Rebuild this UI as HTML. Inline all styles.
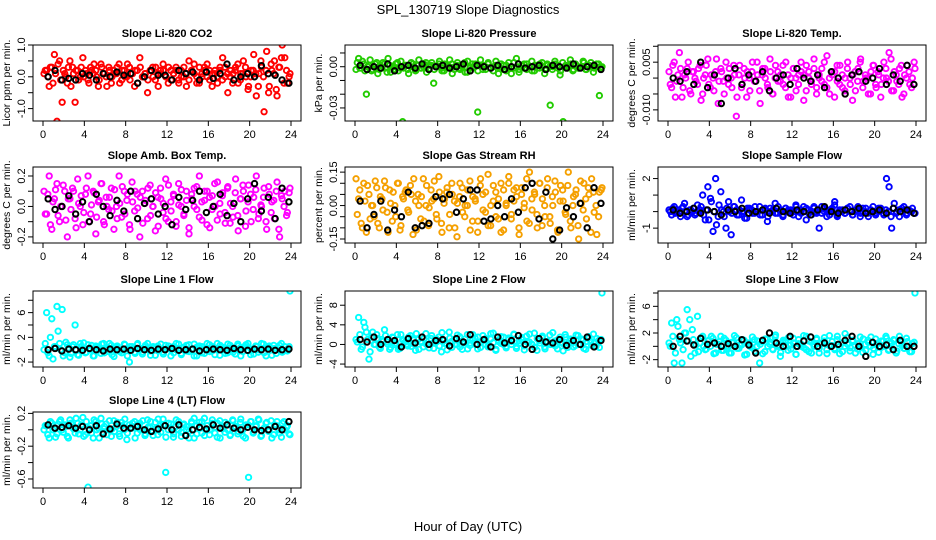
<!DOCTYPE html>
<html><head><meta charset="utf-8">
<style>
html,body{margin:0;padding:0;background:#fff;}
svg{display:block;font-family:"Liberation Sans",sans-serif;}
</style></head>
<body>
<svg id="chart" width="936" height="540" viewBox="0 0 936 540" xmlns="http://www.w3.org/2000/svg">
<text x="468" y="14" text-anchor="middle" font-size="13">SPL_130719  Slope Diagnostics</text>
<text x="468" y="531" text-anchor="middle" font-size="13">Hour of Day (UTC)</text>
</svg>
<script>
const xTicks=[0,4,8,12,16,20,24];
const xTickLabels=["0","4","8","12","16","20","24"];

const co2Values=[0.1,0.2,-0.3,0.3,0.7,-1.4,0.5,-0.8,0.1,-0.2,0.5,0.3,-0.8,0.2,0.0,0.6,0.2,-0.1,0.3,0.1,0.2,-0.3,0.4,0.1,0.0,0.3,-0.2,0.2,0.1,0.4,-0.1,0.2,0.0,0.3,0.1,-0.3,0.2,0.6,0.0,0.1,-0.5,0.2,0.3,-0.1,0.1,0.2,0.4,0.0,-0.2,0.2,0.1,0.3,-0.1,0.2,0.0,-0.3,0.5,0.2,0.1,-0.2,0.3,0.0,0.2,0.4,-0.1,0.1,0.2,-0.2,0.3,0.6,0.0,-0.5,0.2,0.1,0.3,-0.2,0.1,0.5,0.0,-0.3,0.2,0.7,-0.6,0.1,0.3,-1.1,0.8,-0.3,0.2,0.5,-0.6,0.3,1.0,0.6,-0.2,0.1];
const co2Values2=[0.2,0.0,0.3,-0.2,0.1,0.4,-0.1,0.2,0.0,0.3,-0.3,0.1,0.2,-0.1,0.3,0.0,0.1,-0.2,0.2,0.4,0.0,-0.1,0.3,0.1,-0.3,0.2,0.0,0.1,0.3,-0.2,0.2,0.0,0.4,-0.1,0.1,0.2,-0.2,0.3,0.0,0.1,-0.1,0.2,0.0,0.3,-0.3,0.1,0.2,0.0,0.3,-0.1,0.1,0.2,-0.2,0.0,0.3,0.1,-0.1,0.2,0.4,0.0,-0.2,0.1,0.3,0.0,0.2,-0.3,0.1,0.0,0.2,-0.1,0.3,0.1,0.0,-0.2,0.2,0.4,-0.1,0.1,0.3,-0.4,0.0,0.2,0.1,-0.3,0.5,0.0,0.2,-0.5,0.4,0.1,-0.4,0.3,0.6,-0.2,0.2,0.0];
const co2Black=[0.0,0.2,-0.1,-0.05,-0.1,0.1,0.05,-0.1,0.1,0.0,0.15,0.05,0.1,-0.2,0.0,0.2,0.05,0.05,-0.1,0.2,0.1,0.15,-0.1,0.15,-0.05,0.1,0.4,-0.1,0.0,0.1,0.0,0.35,0.1,0.05,-0.1,-0.2];
const co2Ticks=[-1,-0.5,0,0.5,1];
const co2TickLabels=["-1.0","","0.0","","1.0"];

// milli-kPa per min
const pressValues=[-2,6,-1,2,-20,1,-3,0,3,-2,-1,2,-4,1,0,-2,3,-1,-40,1,-2,0,2,-3,1,-1,0,3,-2,1,-12,0,2,-1,-3,1,0,2,-2,1,-1,0,3,-4,-1,2,0,-33,1,-2,0,2,-1,-3,1,0,2,-2,1,-1,-5,3,0,-2,1,-1,2,0,-3,1,-1,2,0,-2,1,-28,0,2,-1,-3,-40,1,0,2,-2,1,-1,0,3,-2,1,0,-1,2,-21,0];
const pressValues2=[3,-1,4,-3,0,5,-2,2,-5,1,3,-1,6,-4,0,2,-3,4,-1,1,-5,3,0,-2,5,-1,2,-4,1,3,-2,0,4,-3,2,-1,5,-5,0,3,-2,1,-4,4,0,-1,2,-3,5,1,-2,3,-1,0,4,-5,2,1,-3,3,0,-1,6,-4,1,2,-2,0,4,-3,1,-1,3,-5,2,0,-2,4,1,-6,3,0,-1,5,-3,2,-1,0,4,-2,1,3,-4,0,2,-1];
const pressBlack=[1,-2,0,-1,2,-3,0,1,-1,2,-2,0,1,-1,0,2,-3,1,0,-1,1,-2,0,2,-1,0,1,-2,1,0,-1,2,-1,0,1,-2];
const pressTicks=[-30,-20,-10,0,10];
const pressTickLabels=["-0.03","","","0.00",""];

// milli-degC per min
const tempValues=[2,-3,5,-1,8,-6,1,3,-4,2,0,-2,4,-5,1,6,-3,0,2,-8,3,-1,5,-2,0,4,-12,1,-3,3,-6,0,2,-1,5,-4,1,3,-2,6,-5,0,2,-1,4,-3,1,-6,3,0,-2,5,1,-4,2,-1,6,-3,0,3,-2,7,-5,1,2,-1,4,-3,0,5,-2,1,-4,3,6,-1,0,-5,2,4,-3,1,-2,5,0,8,-4,2,-1,3,-6,1,4,-2,0,3];
const tempValues2=[-2,4,-6,1,3,-3,0,5,-5,2,-1,3,-7,0,4,-2,1,-4,6,-1,2,-5,0,3,-3,1,-6,4,-2,0,2,-4,5,-1,1,-8,3,0,-3,2,-5,4,-1,1,-2,5,-6,0,3,-4,1,2,-7,4,0,-2,3,-5,1,-1,5,-3,0,2,-6,4,-2,1,-4,3,0,-7,2,-1,5,-3,1,0,-5,4,-2,2,-6,0,3,-1,6,-4,1,-2,4,-5,0,2,-3,5];
const tempBlack=[0,-1,2,-2,5,-3,1,-8,0,3,-2,1,-1,2,-4,0,1,-2,3,0,-1,1,-3,2,0,-5,1,2,-1,0,3,-2,1,-1,4,-2];
const tempTicks=[-10,-5,0,5,10];
const tempTickLabels=["-0.010","","","0.005",""];

const ambValues=[0.1,-0.05,0.2,-0.15,0.05,0.15,-0.1,0.0,0.1,-0.2,0.05,0.12,-0.08,0.18,0.0,-0.12,0.08,0.2,-0.05,0.1,-0.18,0.03,0.15,-0.1,0.06,-0.02,0.12,-0.15,0.0,0.2,-0.07,0.1,0.04,-0.12,0.16,-0.03,0.08,-0.2,0.1,0.02,-0.08,0.14,0.0,-0.16,0.06,0.12,-0.04,0.18,-0.1,0.03,0.08,-0.13,0.15,0.0,-0.06,0.1,-0.18,0.05,0.12,-0.02,0.2,-0.09,0.04,0.1,-0.14,0.07,0.0,0.16,-0.05,0.09,-0.11,0.13,0.02,-0.07,0.18,-0.16,0.05,0.1,-0.03,0.14,-0.1,0.06,0.2,-0.05,0.0,0.12,-0.15,0.08,0.03,-0.08,0.16,-0.2,0.05,0.1,-0.04,0.12];
const ambValues2=[-0.05,0.08,-0.12,0.03,0.11,-0.06,0.0,0.14,-0.09,0.05,-0.02,0.1,-0.14,0.02,0.07,-0.04,0.12,-0.1,0.01,0.09,-0.07,0.04,0.15,-0.12,0.0,0.06,-0.03,0.11,-0.08,0.02,0.13,-0.05,0.08,-0.15,0.03,0.1,-0.01,0.06,-0.11,0.04,0.12,-0.06,0.0,0.09,-0.13,0.05,0.02,-0.08,0.14,-0.03,0.07,-0.1,0.01,0.11,-0.05,0.04,-0.14,0.08,0.0,0.13,-0.07,0.03,0.1,-0.12,0.06,-0.02,0.15,-0.09,0.02,0.07,-0.04,0.12,-0.11,0.0,0.09,-0.06,0.05,0.14,-0.13,0.03,0.08,-0.02,0.11,-0.08,0.01,0.06,-0.1,0.13,-0.04,0.04,0.1,-0.15,0.07,0.0,-0.06,0.09];
const ambBlack=[0.05,-0.02,0.0,0.07,-0.05,0.03,-0.1,0.08,0.0,-0.06,0.04,-0.03,0.1,-0.08,0.02,0.05,-0.05,0.0,-0.12,0.06,-0.02,0.04,0.1,-0.04,0.0,0.08,-0.06,0.02,-0.1,0.05,0.15,-0.03,0.06,-0.08,0.12,0.03];
const ambTicks=[-0.2,-0.1,0,0.1,0.2];
const ambTickLabels=["-0.2","","0.0","","0.2"];

const rhValues=[0.12,0.03,-0.08,0.1,-0.12,0.05,0.0,-0.05,0.08,-0.1,0.03,0.11,-0.03,0.07,-0.07,0.0,0.1,-0.11,0.04,0.06,-0.02,0.09,-0.13,0.02,0.05,-0.06,0.12,0.0,-0.09,0.07,0.03,-0.04,0.13,-0.08,0.01,0.06,-0.1,0.1,0.02,-0.14,0.04,0.08,-0.05,0.0,0.11,-0.07,0.03,-0.12,0.09,0.05,-0.03,0.14,-0.09,0.02,0.06,-0.06,0.1,-0.11,0.0,0.13,-0.04,0.07,0.04,-0.13,0.08,0.01,-0.07,0.15,-0.02,0.05,-0.1,0.1,0.03,-0.05,0.12,-0.08,0.0,0.06,-0.12,0.09,0.02,-0.04,0.15,-0.1,0.04,0.07,-0.15,0.01,0.1,-0.06,0.05,0.12,-0.03,-0.13,0.06,0.08];
const rhValues2=[-0.04,0.07,-0.1,0.02,0.09,-0.06,0.0,0.11,-0.08,0.04,-0.02,0.08,-0.12,0.01,0.06,-0.05,0.1,-0.09,0.03,0.07,-0.03,0.05,0.12,-0.11,0.0,0.04,-0.07,0.09,-0.01,0.02,0.11,-0.06,0.06,-0.12,0.03,0.08,-0.04,0.05,-0.1,0.01,0.1,-0.03,0.0,0.07,-0.11,0.04,0.02,-0.07,0.12,-0.02,0.06,-0.09,0.0,0.09,-0.05,0.03,-0.12,0.07,0.01,0.1,-0.06,0.02,0.08,-0.1,0.05,-0.01,0.12,-0.08,0.03,0.06,-0.04,0.1,-0.09,0.0,0.08,-0.05,0.04,0.11,-0.11,0.02,0.07,-0.03,0.09,-0.07,0.0,0.05,-0.09,0.11,-0.02,0.03,0.08,-0.12,0.06,0.0,-0.05,0.07];
const rhBlack=[0.02,-0.1,-0.04,0.02,-0.11,-0.02,-0.05,0.06,-0.1,-0.09,-0.08,0.04,0.03,0.05,-0.03,0.03,0.07,0.07,-0.07,-0.06,0.0,-0.05,0.03,-0.03,0.08,0.1,-0.06,0.06,-0.15,-0.11,-0.01,-0.05,0.01,-0.1,0.08,0.01];
const rhTicks=[-0.15,-0.1,-0.05,0,0.05,0.1,0.15];
const rhTickLabels=["-0.15","","","0.00","","","0.15"];

const sampleValues=[0.1,-0.2,0.3,0.0,-0.1,0.2,0.5,-0.3,0.1,0.0,-0.2,0.4,0.1,1.0,-0.5,1.5,0.8,-1.2,2.0,-0.3,1.2,0.0,-1.0,0.6,-1.4,0.3,0.1,-0.2,0.7,0.0,-0.4,0.2,0.1,-0.1,0.0,0.3,-0.2,0.1,-0.6,0.2,0.0,0.5,-0.1,0.1,-0.3,0.2,0.0,0.1,-0.2,0.4,0.0,-0.1,0.3,-0.5,0.1,0.0,0.2,-0.1,-1.0,0.3,0.0,0.1,-0.2,0.2,0.6,-0.3,0.0,0.1,-0.1,0.2,0.0,-0.2,0.1,0.3,-0.1,0.0,0.2,-0.3,0.1,0.0,-0.1,0.2,0.1,-0.2,2.0,1.5,-1.0,0.5,0.0,-0.3,0.2,0.1,-0.1,0.0,0.2,-0.1];
const sampleValues2=[0.0,0.2,-0.1,0.1,-0.3,0.3,0.0,-0.2,0.1,0.2,-0.1,0.0,0.3,-0.2,0.1,-0.5,0.6,0.0,-0.8,0.4,0.1,-0.3,0.2,0.0,-0.1,0.3,-0.2,0.1,0.0,-0.4,0.2,0.1,-0.1,0.3,0.0,-0.2,0.1,0.2,-0.3,0.0,0.1,-0.1,0.3,0.0,-0.2,0.2,0.1,-0.1,0.0,0.3,-0.3,0.1,0.0,0.2,-0.1,-0.2,0.3,0.0,0.1,-0.1,0.2,-0.3,0.0,0.1,0.4,-0.2,0.1,0.0,-0.1,0.2,0.3,-0.2,0.0,0.1,-0.3,0.2,0.0,-0.1,0.1,0.3,-0.2,0.0,0.2,-0.1,0.1,0.0,-0.3,0.2,-0.1,0.1,0.0,0.3,-0.2,0.1,0.0,-0.1];
const sampleBlack=[0.1,-0.1,0.0,0.2,-0.1,0.1,0.0,-0.2,0.1,0.0,0.2,-0.1,0.0,0.1,-0.1,0.2,0.0,-0.1,0.1,0.0,-0.2,0.1,0.3,0.0,-0.1,0.1,0.0,0.2,-0.1,0.0,0.1,-0.1,0.2,0.0,0.1,-0.1];
const sampleTicks=[-1,0,1,2];
const sampleTickLabels=["-1","","","2"];

const line1Values=[0.0,6.0,-1.0,5.0,0.5,7.0,1.0,6.5,-0.5,0.8,-1.2,0.5,4.0,-0.8,1.0,0.2,-0.5,0.8,0.0,-1.0,0.6,0.3,-0.6,1.0,0.0,-0.3,0.7,-1.1,0.4,0.0,-0.5,0.9,0.2,-2.0,0.5,-0.4,0.8,0.0,-0.7,0.4,1.0,-0.2,0.3,-0.9,0.6,0.0,-0.4,0.7,0.2,-1.0,0.5,0.0,0.9,-0.6,0.3,-0.2,0.8,0.0,-1.0,0.4,0.6,-0.5,0.1,1.0,-0.3,0.5,-0.8,0.2,0.7,0.0,-0.6,0.9,0.3,-0.4,0.0,0.6,-1.0,0.4,0.8,-0.2,0.1,-0.7,0.5,0.0,1.0,-0.5,0.3,0.6,-0.9,0.2,0.0,0.7,-0.4,0.5,-0.2,9.5];
const line1Values2=[1.0,-0.5,2.0,-1.5,0.5,3.0,0.0,-1.0,1.2,0.3,-0.6,0.8,0.0,-0.9,0.5,1.1,-0.4,0.2,0.7,-1.0,0.4,0.0,0.9,-0.5,0.2,1.0,-0.8,0.3,0.6,-0.3,0.0,0.8,-1.0,0.5,0.1,-0.6,1.0,0.2,-0.4,0.7,0.0,-0.9,0.5,0.3,-0.2,0.9,-0.7,0.1,0.6,0.0,-0.5,1.0,0.2,-0.8,0.4,0.7,-0.3,0.0,0.9,-1.0,0.3,0.5,-0.6,0.1,0.8,-0.2,0.0,1.0,-0.9,0.4,0.2,-0.5,0.7,0.0,-0.7,0.9,0.3,-0.3,0.5,1.0,-0.8,0.0,0.6,-0.4,0.2,0.9,-1.0,0.4,0.0,0.7,-0.6,0.3,1.0,-0.2,0.0,0.5];
const line1Black=[0.0,0.2,-0.2,0.1,0.0,-0.1,0.2,0.0,-0.2,0.1,0.0,0.1,-0.1,0.2,0.0,-0.1,0.1,0.0,0.2,-0.1,0.0,0.1,-0.2,0.0,0.1,0.0,-0.1,0.2,0.0,-0.1,0.1,0.0,0.1,-0.1,0.0,0.1];
const line1Ticks=[-2,0,2,4,6,8];
const line1TickLabels=["-2","","2","","6",""];

const line2Values=[1.0,5.5,-1.0,4.5,2.5,-3.0,1.5,0.0,2.0,-0.5,1.0,3.0,0.5,-1.0,1.5,0.0,2.0,-0.8,1.0,0.5,-0.3,1.8,0.2,-1.2,1.0,0.6,-0.5,2.2,0.0,1.2,-0.8,0.5,1.5,-1.5,0.8,0.2,2.5,-0.6,1.0,0.0,1.6,-1.0,0.4,2.0,-0.2,0.9,1.3,-0.9,0.3,1.8,0.0,-0.5,1.1,2.3,-1.2,0.6,0.2,1.5,-0.7,1.0,0.0,2.0,-0.4,0.8,1.4,-1.1,0.5,2.1,0.0,-0.6,1.2,0.3,1.7,-0.9,0.6,0.0,2.4,-0.3,1.0,0.4,-1.3,1.5,0.2,0.8,-0.5,1.9,0.0,1.1,-0.8,0.6,1.6,-0.2,0.4,1.2,-0.6,10.5];
const line2Values2=[0.5,2.0,-0.5,3.5,1.0,-1.5,2.5,0.0,1.2,-0.8,0.6,1.8,0.0,-0.6,1.4,0.3,-1.0,2.0,0.8,0.0,1.5,-0.4,0.9,2.2,-1.0,0.4,1.2,0.0,-0.7,1.8,0.5,1.0,-0.3,2.4,0.2,-1.1,1.3,0.7,0.0,1.9,-0.5,0.6,1.1,-0.9,0.3,2.0,0.0,1.5,-0.6,0.8,1.2,-0.2,2.2,0.4,-1.0,0.9,1.6,0.0,-0.4,1.3,0.6,2.1,-0.8,0.2,1.0,-0.3,1.7,0.5,0.0,2.3,-1.2,0.8,1.4,-0.5,0.3,1.9,0.0,0.7,-0.9,1.5,0.2,2.0,-0.6,1.1,0.4,-0.2,1.8,0.0,0.9,-1.0,1.3,0.6,2.1,-0.4,0.8,1.0];
const line2Black=[1.0,0.5,1.5,0.0,1.0,0.8,-0.5,1.2,0.3,1.5,0.0,0.8,1.0,-0.3,1.2,0.5,2.0,0.0,1.0,-0.5,1.5,0.3,0.8,1.8,0.0,-1.0,1.2,0.5,0.3,1.0,-0.2,0.8,0.0,1.5,-0.5,0.8];
const line2Ticks=[-4,0,4,8];
const line2TickLabels=["-4","0","4","8"];

const line3Values=[0.5,3.5,-2.5,4.0,1.0,-2.5,2.0,5.5,4.0,2.5,-1.0,4.5,0.5,1.5,-0.5,0.8,0.0,1.2,-1.0,0.3,1.5,-0.6,0.9,0.0,-1.0,0.6,1.3,-0.3,0.2,0.9,-1.2,0.5,-0.2,1.0,0.0,-2.5,0.7,-0.8,1.1,0.3,-0.4,1.4,0.0,-1.5,0.6,0.9,-0.6,0.2,1.2,-1.2,0.4,0.0,1.6,-0.5,0.8,-1.0,0.3,1.0,-0.3,0.5,1.3,-1.1,0.1,0.7,-0.5,1.5,0.0,-0.8,1.9,0.3,-0.2,0.9,-1.0,0.4,0.0,1.1,-0.6,0.6,1.4,-0.3,0.2,-0.9,0.8,0.0,1.2,-0.5,0.5,0.9,-0.7,1.5,0.1,-0.3,0.7,-0.8,0.4,8.0];
const line3Values2=[0.0,1.5,-1.0,3.0,0.5,-0.5,2.0,0.8,-1.5,1.0,0.2,-0.8,1.3,0.0,-0.4,0.9,1.5,-1.1,0.3,0.7,-0.6,1.2,0.0,-1.0,0.6,1.6,-0.3,0.2,1.0,-1.3,0.5,0.0,1.4,-0.7,0.8,0.3,-1.1,1.1,0.0,0.6,-0.5,1.7,0.2,-0.9,0.9,0.0,1.3,-0.4,0.5,-1.2,1.0,0.3,-0.2,1.5,-0.8,0.6,0.0,1.2,-1.0,0.4,0.8,-0.5,1.6,0.1,-0.3,1.0,-1.1,0.5,0.0,1.3,-0.7,0.7,0.2,-0.4,1.4,-0.9,0.3,0.9,0.0,-1.2,1.1,0.5,-0.2,0.8,1.5,-0.6,0.0,1.0,-1.0,0.4,0.7,-0.3,1.2,0.0,-0.8,0.6];
const line3Black=[0.0,1.5,0.8,0.2,1.2,0.3,0.5,0.0,0.4,0.0,1.0,0.2,-1.0,0.9,2.0,0.5,0.0,1.5,0.0,0.8,1.4,0.0,0.5,0.0,0.3,0.9,1.5,0.0,-1.5,0.6,0.0,0.2,-0.5,0.9,0.0,0.0];
const line3Ticks=[-2,0,2,4,6,8];
const line3TickLabels=["-2","","2","","6",""];

const line4Values=[0.0,0.05,-0.1,0.08,0.02,-0.05,0.1,0.0,0.06,-0.08,0.12,0.03,-0.04,0.08,0.0,0.15,-0.06,-0.7,0.05,-0.1,0.1,0.02,0.14,-0.03,0.07,0.0,-0.08,0.11,0.04,-0.05,0.09,0.0,-0.12,0.06,0.02,0.1,-0.04,0.08,0.0,-0.07,0.12,0.03,-0.02,0.09,-0.06,0.05,0.13,-0.52,0.0,0.07,-0.09,0.04,0.1,-0.03,0.06,0.0,-0.1,0.08,0.14,-0.05,0.02,0.1,-0.07,0.05,0.0,0.12,-0.04,0.08,-0.1,0.03,0.09,0.0,-0.06,0.11,0.04,-0.02,0.13,-0.08,0.06,-0.58,0.1,-0.03,0.05,0.12,-0.07,0.02,0.09,0.0,-0.1,0.06,0.1,-0.04,0.08,0.0,0.05,-0.06];
const line4Values2=[0.05,-0.06,0.1,0.0,-0.09,0.07,0.12,-0.03,0.04,-0.1,0.08,0.01,0.14,-0.05,0.06,-0.08,0.1,0.02,-0.04,0.12,0.0,-0.1,0.07,0.04,-0.06,0.11,0.01,-0.02,0.09,-0.08,0.05,0.13,-0.04,0.02,0.08,-0.1,0.06,0.0,0.11,-0.05,0.03,0.1,-0.07,0.01,0.13,-0.03,0.06,-0.09,0.08,0.02,-0.05,0.12,0.0,-0.08,0.07,0.04,-0.02,0.1,-0.1,0.05,0.09,-0.04,0.14,0.0,-0.06,0.08,0.03,-0.09,0.11,0.01,-0.03,0.07,-0.07,0.12,0.02,-0.05,0.09,0.0,-0.1,0.06,0.1,-0.04,0.04,0.13,-0.08,0.01,0.08,-0.02,0.11,-0.06,0.05,0.0,-0.09,0.1,0.03,-0.05];
const line4Black=[0.06,0.02,0.03,0.05,0.02,0.04,0.0,0.05,-0.05,0.01,0.07,0.02,0.02,0.04,0.0,-0.02,0.01,0.05,0.0,0.06,-0.07,0.0,0.03,0.01,0.06,0.02,0.06,0.02,0.0,0.03,0.0,-0.01,0.0,0.04,0.0,0.1];
const line4Ticks=[-0.6,-0.4,-0.2,0,0.2];
const line4TickLabels=["-0.6","","-0.2","","0.2"];

const NS="http://www.w3.org/2000/svg";
const svg=document.getElementById('chart');
function mk(tag,attrs,parent){const e=document.createElementNS(NS,tag);for(const k in attrs)e.setAttribute(k,attrs[k]);(parent||svg).appendChild(e);return e;}

const panels=[
 {key:"co2",title:"Slope Li-820 CO2",ylab:"Licor ppm per min.",vals:co2Values,vals2:co2Values2,blk:co2Black,ticks:co2Ticks,labs:co2TickLabels,dom:[-1.39,1.0],col:"#ff0000",c:0,r:0},
 {key:"pressure",title:"Slope Li-820 Pressure",ylab:"kPa per min.",vals:pressValues,vals2:pressValues2,blk:pressBlack,ticks:pressTicks,labs:pressTickLabels,dom:[-39.5,15.8],col:"#22cc00",c:1,r:0},
 {key:"temp",title:"Slope Li-820 Temp.",ylab:"degrees C per min.",vals:tempValues,vals2:tempValues2,blk:tempBlack,ticks:tempTicks,labs:tempTickLabels,dom:[-13.5,10.4],col:"#ff00ff",c:2,r:0},
 {key:"amb-box-temp",title:"Slope Amb. Box Temp.",ylab:"degrees C per min.",vals:ambValues,vals2:ambValues2,blk:ambBlack,ticks:ambTicks,labs:ambTickLabels,dom:[-0.24,0.259],col:"#ff00ff",c:0,r:1},
 {key:"gas-rh",title:"Slope Gas Stream RH",ylab:"percent per min.",vals:rhValues,vals2:rhValues2,blk:rhBlack,ticks:rhTicks,labs:rhTickLabels,dom:[-0.168,0.173],col:"#f5a000",c:1,r:1},
 {key:"sample-flow",title:"Slope Sample Flow",ylab:"ml/min per min.",vals:sampleValues,vals2:sampleValues2,blk:sampleBlack,ticks:sampleTicks,labs:sampleTickLabels,dom:[-1.9,2.7],col:"#0000ff",c:2,r:1},
 {key:"line1-flow",title:"Slope Line 1 Flow",ylab:"ml/min per min.",vals:line1Values,vals2:line1Values2,blk:line1Black,ticks:line1Ticks,labs:line1TickLabels,dom:[-2.8,9.5],col:"#00ffff",c:0,r:2},
 {key:"line2-flow",title:"Slope Line 2 Flow",ylab:"ml/min per min.",vals:line2Values,vals2:line2Values2,blk:line2Black,ticks:line2Ticks,labs:line2TickLabels,dom:[-4.6,10.9],col:"#00ffff",c:1,r:2},
 {key:"line3-flow",title:"Slope Line 3 Flow",ylab:"ml/min per min.",vals:line3Values,vals2:line3Values2,blk:line3Black,ticks:line3Ticks,labs:line3TickLabels,dom:[-3.1,8.3],col:"#00ffff",c:2,r:2},
 {key:"line4-flow",title:"Slope Line 4 (LT) Flow",ylab:"ml/min per min.",vals:line4Values,vals2:line4Values2,blk:line4Black,ticks:line4Ticks,labs:line4TickLabels,dom:[-0.71,0.217],col:"#00ffff",c:0,r:3}
];
const colLeft=[33,345,658], colW=268;
const rowTop=[45,167,291,412], boxH=76;

panels.forEach(p=>{
  const L=colLeft[p.c], T=rowTop[p.r], W=colW, H=boxH, B=T+H;
  const g=mk('g',{});
  
  
  const xs=h=>L+10+h*(W-20)/24;
  const ys=v=>B-(v-p.dom[0])/(p.dom[1]-p.dom[0])*H;
  const t=mk('text',{x:L+W/2,y:T-8,'text-anchor':'middle','font-size':11,'font-weight':'bold'},g);
  t.textContent=p.title;
  
  
  const yl=mk('text',{x:0,y:0,'text-anchor':'middle','font-size':10.5,transform:`translate(${L-23},${T+H/2}) rotate(-90)`},g);
  yl.textContent=p.ylab;
  
  
  xTicks.forEach((v,i)=>{
    const x=xs(v);
    const tk=mk('line',{x1:x,x2:x,y1:B,y2:B+5,stroke:'#000','stroke-width':1},g);
    
    
    const tl=mk('text',{x:x,y:B+17,'text-anchor':'middle','font-size':11},g);
    tl.textContent=xTickLabels[i];
    
    
  });
  p.ticks.forEach((v,i)=>{
    const y=ys(v);
    const tk=mk('line',{x1:L-5,x2:L,y1:y,y2:y,stroke:'#000','stroke-width':1},g);
    
    
    if(p.labs[i]){
      const tl=mk('text',{x:0,y:0,'text-anchor':'middle','font-size':11,transform:`translate(${L-8},${y}) rotate(-90)`},g);
      tl.textContent=p.labs[i];
      
      
    }
  });
  const cid='clip-'+p.key;
  const cp=mk('clipPath',{id:cid},g);
  mk('rect',{x:L,y:T,width:W,height:H},cp);
  const pts=mk('g',{'clip-path':`url(#${cid})`},g);
  const n2=p.vals2.length;
  p.vals2.forEach((v,i)=>{
    const h=0.22+i*23.6/(n2-1);
    const c=mk('circle',{cx:xs(h),cy:ys(v),r:2.7,fill:'none',stroke:p.col,'stroke-width':1.9},pts);
    
    
  });
  const n=p.vals.length;
  p.vals.forEach((v,i)=>{
    const h=0.1+i*23.8/(n-1);
    const c=mk('circle',{cx:xs(h),cy:ys(v),r:2.7,fill:'none',stroke:p.col,'stroke-width':1.9},pts);
    
    
  });
  const m=p.blk.length;
  p.blk.forEach((v,i)=>{
    const h=0.5+i*23.3/(m-1);
    const c=mk('circle',{cx:xs(h),cy:ys(v),r:2.7,fill:'none',stroke:'#000','stroke-width':2},pts);
    
    
  });
  const box=mk('rect',{x:L,y:T,width:W,height:H,fill:'none',stroke:'#000','stroke-width':1},g);
  
  
});
</script>
</body></html>
